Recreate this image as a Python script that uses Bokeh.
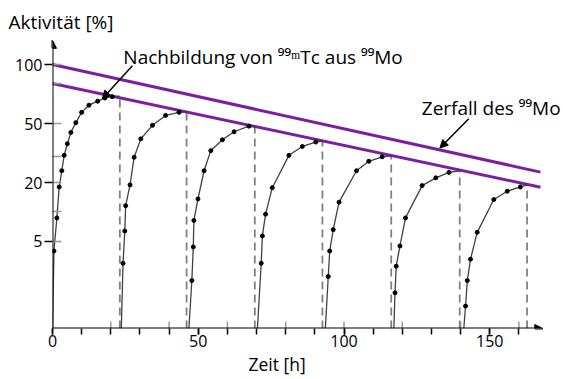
import numpy as np
from bokeh.plotting import figure
from bokeh.models import FixedTicker, Label, Arrow, NormalHead, Range1d, Title
from bokeh.embed import file_html
from bokeh.resources import INLINE

# ---------------- data (time in h, activity in %) ----------------
C1_T = [0, 0.5, 1.5, 2.3, 3.2, 4.0, 5.1, 6.3, 8.0, 10.0, 12.5, 15.5, 18.0, 20.5, 23.1]
C1_V = [0, 4, 8.7, 18, 24, 30.5, 36.5, 43.5, 50.5, 57, 62, 65, 67.5, 68.5, 69]
C2_T = [23.6, 24.2, 24.8, 25.1, 26.6, 28.0, 30.3, 34.3, 38.8, 43.4, 46.0]
C2_V = [0, 3, 6.4, 11.6, 18.9, 29.6, 39.4, 48.6, 55, 57, 57.5]
C3_T = [46.8, 47.8, 48.3, 48.5, 49.9, 52.0, 54.3, 58.3, 62.3, 67.4, 69.4]
C3_V = [0, 2, 4.4, 8.2, 13.6, 24, 32.8, 38.8, 44, 48, 48.2]
C4_T = [70.3, 71.6, 72.0, 73.1, 75.4, 81.1, 85.7, 90.3, 92.6]
C4_V = [0, 3.0, 5.7, 9.5, 17.7, 30.5, 35, 37.5, 38]
C5_T = [93.6, 94.6, 95.1, 96.3, 98.3, 104.3, 108.5, 113.1, 116.2]
C5_V = [0, 2.2, 4.0, 6.6, 12.6, 24, 27.8, 29.8, 30.2]
C6_T = [117.1, 117.5, 117.9, 119.2, 121.1, 126.8, 131.5, 136.0, 139.7]
C6_V = [0, 1.5, 2.8, 4.5, 8.7, 18.6, 21.5, 23.4, 24]
C7_T = [141.1, 141.7, 142.3, 143.4, 145.7, 151.4, 156.0, 160.5, 162.8]
C7_V = [0, 1.1, 2.0, 3.3, 6.2, 13.4, 16.3, 18.0, 18.8]
CURVES = [(C1_T, C1_V), (C2_T, C2_V), (C3_T, C3_V), (C4_T, C4_V),
          (C5_T, C5_V), (C6_T, C6_V), (C7_T, C7_V)]

ELUTION_T = [23.1, 46.0, 69.4, 92.6, 116.2, 139.7, 162.8]
ELUTION_V = [69, 57.5, 48.2, 38, 30.2, 24, 18.8]

MO_T = [0, 167.4]
MO_V = [100, 23.5]          # Zerfall des 99Mo
TC_T = [0, 167.4]
TC_V = [80, 17.9]           # Hüllkurve 99mTc

Y_TICK_VALUES = [5, 20, 50, 100]
Y_MINOR_VALUES = [5, 10, 20, 30, 50, 80, 100]
X_TICKS = [0, 50, 100, 150]
X_MINOR = list(range(0, 170, 10))
X_UP_TICKS = [20, 40, 60, 80, 100, 120, 140, 160]

# ---------------- axis scale of the original (piecewise log) ----------------
_LOG_ANCH = np.log10([0.65, 5, 20, 50, 100])
_POS = [-1.475, 0, 1, 2, 3]


def pos(v):
    v = np.asarray(v, dtype=float)
    return np.interp(np.log10(np.maximum(v, 0.65)), _LOG_ANCH, _POS)


FONT = "Open Sans"
PURPLE = "#7a1fa2"

p = figure(width=563, height=379, output_backend="svg", toolbar_location=None,
           x_range=Range1d(0, 175.3), y_range=Range1d(-1.475, 3.475),
           min_border_left=52, min_border_right=0, min_border_top=36,
           min_border_bottom=51)
p.outline_line_color = None
p.grid.visible = False
p.background_fill_color = "white"

# axes
p.xaxis.ticker = FixedTicker(ticks=X_TICKS, minor_ticks=X_MINOR)
p.xaxis.axis_line_color = None
p.xaxis.major_tick_out = 6
p.xaxis.major_tick_in = 0
p.xaxis.minor_tick_out = 6
p.xaxis.minor_tick_in = 0
p.xaxis.major_tick_line_width = 1.5
p.xaxis.minor_tick_line_width = 1.5
p.xaxis.major_label_standoff = 0
p.xaxis.major_label_text_font = FONT
p.xaxis.major_label_text_font_size = "16px"
p.xaxis.major_label_text_color = "black"

yt = pos(Y_TICK_VALUES)
p.yaxis.ticker = FixedTicker(ticks=list(yt), minor_ticks=list(pos(Y_MINOR_VALUES)))
p.yaxis.major_label_overrides = {float(k): str(v) for k, v in zip(yt, Y_TICK_VALUES)}
p.yaxis.axis_line_color = None
p.yaxis.major_tick_out = 8
p.yaxis.major_tick_in = 0
p.yaxis.major_tick_line_width = 1.5
p.yaxis.minor_tick_out = 0
p.yaxis.minor_tick_in = 9
p.yaxis.minor_tick_line_color = "#9a9a9a"
p.yaxis.minor_tick_line_width = 1.5
p.yaxis.major_label_standoff = 2
p.yaxis.major_label_text_font = FONT
p.yaxis.major_label_text_font_size = "16px"
p.yaxis.major_label_text_color = "black"

# titles outside the frame
p.add_layout(Title(text="Aktivität [%]", align="left", offset=-44, standoff=3,
                   text_font=FONT, text_font_size="19px", text_font_style="normal",
                   text_color="black"), "above")
p.add_layout(Title(text="Zeit [h]", align="left", offset=196, standoff=0,
                   text_font=FONT, text_font_size="17.5px", text_font_style="normal",
                   text_color="black"), "below")

# small grey marks above the time axis
ybot = -1.475
p.segment(x0=X_UP_TICKS, y0=[ybot] * len(X_UP_TICKS), x1=X_UP_TICKS,
          y1=[ybot + 0.12] * len(X_UP_TICKS), line_color="#9a9a9a", line_width=1.5)

# elution dashed lines
p.segment(x0=ELUTION_T, y0=[ybot] * len(ELUTION_T), x1=ELUTION_T, y1=list(pos(ELUTION_V)),
          line_color="#808080", line_width=1.8, line_dash="8 5")

# purple lines
p.line(MO_T, pos(MO_V), line_color=PURPLE, line_width=3)
p.line(TC_T, pos(TC_V), line_color=PURPLE, line_width=3)

# build-up curves
for t, v in CURVES:
    p.line(t, pos(v), line_color="#404040", line_width=1.3)
    p.scatter(t[1:-1], pos(v[1:-1]), size=4, color="black")

# axis lines with arrows
p.add_layout(Arrow(x_start=0, y_start=ybot, x_end=0, y_end=3.41, line_width=2,
                   line_color="black",
                   end=NormalHead(size=8, fill_color="black", line_color="black")))
p.add_layout(Arrow(x_start=0, y_start=ybot, x_end=168.2, y_end=ybot, line_width=2,
                   line_color="black",
                   end=NormalHead(size=8, fill_color="black", line_color="black")))

# annotation arrows
p.add_layout(Arrow(x_start=27.4, y_start=2.98, x_end=17.1, y_end=2.42, line_width=1.5,
                   line_color="black",
                   end=NormalHead(size=8, fill_color="black", line_color="black")))
p.add_layout(Arrow(x_start=142.8, y_start=2.08, x_end=132.9, y_end=1.585, line_width=1.5,
                   line_color="black",
                   end=NormalHead(size=8, fill_color="black", line_color="black")))

# texts in the frame
def lab(x, y, text, align="left", size="19px"):
    p.add_layout(Label(x=x, y=y, text=text, text_align=align,
                       text_baseline="alphabetic", text_font=FONT,
                       text_font_size=size, text_color="black"))

lab(24.3, 3.12, "Nachbildung von \u2079\u2079\u1d50Tc aus \u2079\u2079Mo")
lab(174.3, 2.27, "Zerfall des \u2079\u2079Mo", align="right")

open("out.html", "w").write(file_html(p, INLINE))
